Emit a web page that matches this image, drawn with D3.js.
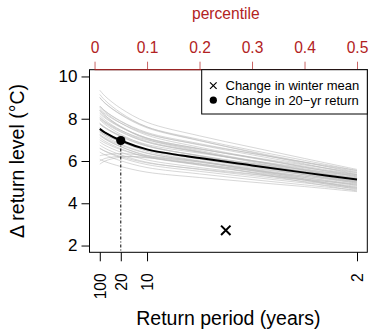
<!DOCTYPE html>
<html>
<head>
<meta charset="utf-8">
<script src="https://cdn.jsdelivr.net/npm/d3@7"></script>
<style>
  body { margin: 0; background: #fff; }
  svg { display: block; font-family: "Liberation Sans", Arial, Helvetica, sans-serif; }
</style>
</head>
<body>
<svg id="chart" width="370" height="329"></svg>
<script>
// Percentile positions at which every curve is sampled
const percentiles = [0.01, 0.02, 0.05, 0.1, 0.2, 0.3, 0.4, 0.5];

// Axis tick values
const percentileTicks = [0, 0.1, 0.2, 0.3, 0.4, 0.5];
const returnPeriodTicks = [100, 20, 10, 2];
const levelTicks = [2, 4, 6, 8, 10];

// Central estimate of the change in return level (°C)
const centralCurve = [7.52, 7.34, 6.97, 6.55, 6.14, 5.79, 5.45, 5.12];

// Ensemble members (°C), one row per member, sampled at `percentiles`
const ensembleCurves = [
  [9.35, 9.07, 8.49, 7.83, 7.19, 6.65, 6.12, 5.60],
  [9.00, 8.74, 8.21, 7.61, 7.02, 6.51, 6.03, 5.55],
  [9.00, 8.73, 8.19, 7.57, 6.96, 6.44, 5.94, 5.45],
  [8.60, 8.37, 7.89, 7.35, 6.82, 6.36, 5.93, 5.50],
  [8.60, 8.36, 7.87, 7.31, 6.76, 6.29, 5.84, 5.40],
  [8.25, 8.03, 7.59, 7.08, 6.58, 6.16, 5.75, 5.35],
  [8.30, 8.08, 7.61, 7.09, 6.58, 6.14, 5.71, 5.30],
  [8.00, 7.79, 7.37, 6.89, 6.42, 6.02, 5.63, 5.25],
  [8.05, 7.84, 7.40, 6.90, 6.41, 6.00, 5.59, 5.20],
  [7.75, 7.56, 7.15, 6.70, 6.26, 5.88, 5.51, 5.15],
  [7.80, 7.60, 7.18, 6.71, 6.25, 5.85, 5.47, 5.10],
  [7.55, 7.36, 6.98, 6.54, 6.11, 5.75, 5.40, 5.05],
  [7.55, 7.36, 6.97, 6.52, 6.08, 5.71, 5.35, 5.00],
  [7.35, 7.17, 6.80, 6.38, 5.97, 5.62, 5.28, 4.95],
  [7.20, 7.03, 6.67, 6.27, 5.88, 5.54, 5.22, 4.90],
  [7.10, 6.93, 6.58, 6.19, 5.81, 5.48, 5.16, 4.85],
  [6.90, 6.74, 6.42, 6.05, 5.69, 5.39, 5.09, 4.80],
  [6.75, 6.60, 6.29, 5.94, 5.60, 5.31, 5.03, 4.75],
  [6.60, 6.46, 6.16, 5.83, 5.51, 5.23, 4.96, 4.70],
  [6.42, 6.29, 6.01, 5.69, 5.39, 5.12, 4.87, 4.62],
  [6.08, 5.97, 5.74, 5.47, 5.22, 5.00, 4.79, 4.55],
  [6.00, 6.12, 6.22, 6.15, 5.85, 5.45, 5.00, 4.58],
  [5.85, 6.00, 6.18, 6.18, 5.95, 5.55, 5.10, 4.65],
  [6.25, 6.30, 6.35, 6.25, 5.95, 5.60, 5.15, 4.70],
  [8.55, 8.30, 7.79, 7.22, 6.65, 6.17, 5.71, 5.25],
  [8.40, 8.15, 7.64, 7.07, 6.50, 6.02, 5.56, 5.10],
  [7.95, 7.73, 7.26, 6.74, 6.23, 5.79, 5.36, 4.95],
  [7.75, 7.57, 7.20, 6.78, 6.37, 6.02, 5.68, 5.35],
  [8.05, 7.86, 7.45, 7.00, 6.56, 6.18, 5.81, 5.45],
  [7.40, 7.24, 6.90, 6.51, 6.14, 5.81, 5.50, 5.20],
  [7.00, 6.85, 6.54, 6.19, 5.85, 5.56, 5.28, 5.00],
  [7.55, 7.35, 6.93, 6.46, 6.00, 5.60, 5.22, 4.85],
  [8.15, 7.93, 7.46, 6.94, 6.43, 5.99, 5.56, 5.15],
  [7.25, 7.09, 6.75, 6.36, 5.99, 5.66, 5.35, 5.05],
  [7.25, 7.06, 6.68, 6.24, 5.81, 5.45, 5.10, 4.75],
  [7.40, 7.24, 6.92, 6.55, 6.19, 5.89, 5.59, 5.30],
  [8.45, 8.23, 7.79, 7.28, 6.78, 6.36, 5.95, 5.55],
  [6.60, 6.47, 6.21, 5.91, 5.62, 5.37, 5.13, 4.90],
  [9.15, 8.87, 8.28, 7.61, 6.97, 6.41, 5.87, 5.35],
  [8.40, 8.15, 7.62, 7.03, 6.45, 5.95, 5.47, 5.00]
];

// Highlighted points: [percentile, change in °C]
const winterMeanChange = [0.25, 2.72];
const twentyYearChange = [0.05, 6.97];

// Legend entries
const legendLabels = ["Change in winter mean", "Change in 20\u2212yr return"];

// ---- layout ----
const svg = d3.select("#chart");
const box = { left: 89.5, right: 367.3, top: 69.7, bottom: 252.3 };
const red = "#b22222";

// x runs over the percentile 0.01..0.5 with a 4% margin on each side
const xPad = 0.04 * (0.5 - 0.01);
const x = d3.scaleLinear().domain([0.01 - xPad, 0.5 + xPad]).range([box.left, box.right]);
const yPad = 0.04 * (10 - 2);
const y = d3.scaleLinear().domain([2 - yPad, 10 + yPad]).range([box.bottom, box.top]);

const line = d3.line()
  .x((d, i) => x(percentiles[i]))
  .y(d => y(d))
  .curve(d3.curveCatmullRom.alpha(0.5));

const plot = svg.append("g");

// ensemble spread
plot.selectAll("path.member")
  .data(ensembleCurves)
  .join("path")
  .attr("class", "member")
  .attr("d", line)
  .attr("fill", "none")
  .attr("stroke", "#bdbdbd")
  .attr("stroke-opacity", 0.6)
  .attr("stroke-width", 1);

// central estimate
plot.append("path")
  .attr("d", line(centralCurve))
  .attr("fill", "none")
  .attr("stroke", "#000")
  .attr("stroke-width", 2);

// dot-dash drop line from the 20-yr point
plot.append("line")
  .attr("x1", x(twentyYearChange[0])).attr("x2", x(twentyYearChange[0]))
  .attr("y1", y(twentyYearChange[1])).attr("y2", box.bottom)
  .attr("stroke", "#000")
  .attr("stroke-width", 1)
  .attr("stroke-dasharray", "3,2,1,2");

plot.append("circle")
  .attr("cx", x(twentyYearChange[0]))
  .attr("cy", y(twentyYearChange[1]))
  .attr("r", 4.6)
  .attr("fill", "#000");

// cross marker for the winter-mean change
const cross = d3.symbol().type(d3.symbolX).size(60);
plot.append("path")
  .attr("d", cross())
  .attr("transform", `translate(${x(winterMeanChange[0])},${y(winterMeanChange[1])})`)
  .attr("fill", "none")
  .attr("stroke", "#000")
  .attr("stroke-width", 2);

// plot frame
svg.append("rect")
  .attr("x", box.left).attr("y", box.top)
  .attr("width", box.right - box.left).attr("height", box.bottom - box.top)
  .attr("fill", "none").attr("stroke", "#000").attr("stroke-width", 1);

// left axis
const yAxis = d3.axisLeft(y).tickValues(levelTicks).tickSize(8).tickPadding(4).tickFormat(d3.format("d"));
const gy = svg.append("g").attr("transform", `translate(${box.left},0)`).call(yAxis);
gy.select(".domain").attr("d", `M0,${y(2)}V${y(10)}`);
gy.selectAll("text").attr("font-size", 17).attr("fill", "#000").attr("font-family", null);

// top axis (percentile, red)
const xTop = d3.axisTop(x).tickValues(percentileTicks).tickSize(8).tickPadding(9).tickFormat(d => d === 0 ? "0" : d3.format(".1f")(d));
const gt = svg.append("g").attr("transform", `translate(0,${box.top})`).call(xTop);
gt.select(".domain").attr("d", `M${x(0)},0H${x(0.5)}`).attr("stroke", red);
gt.selectAll(".tick line").attr("stroke", red).attr("stroke-opacity", 0.7);
gt.selectAll("text").attr("font-size", 15.6).attr("fill", red).attr("font-family", null);

svg.append("text")
  .attr("x", x(0.25)).attr("y", 19)
  .attr("text-anchor", "middle")
  .attr("font-size", 15.6)
  .attr("fill", red)
  .text("percentile");

// bottom axis (return period, labels perpendicular)
const xBottom = d3.axisBottom(x)
  .tickValues(returnPeriodTicks.map(t => 1 / t))
  .tickSize(9)
  .tickFormat((d, i) => String(returnPeriodTicks[i]));
const gb = svg.append("g").attr("transform", `translate(0,${box.bottom})`).call(xBottom);
gb.select(".domain").remove();
gb.selectAll("text")
  .attr("font-size", 15.6)
  .attr("fill", "#000")
  .attr("font-family", null)
  .attr("text-anchor", "end")
  .attr("transform", "translate(0,21) rotate(-90)")
  .attr("x", 0).attr("y", 0).attr("dy", "0.35em");

svg.append("text")
  .attr("x", (box.left + box.right) / 2).attr("y", 325)
  .attr("text-anchor", "middle")
  .attr("font-size", 19.5)
  .text("Return period (years)");

svg.append("text")
  .attr("transform", `translate(24,${(box.top + box.bottom) / 2}) rotate(-90)`)
  .attr("text-anchor", "middle")
  .attr("font-size", 19.5)
  .text("\u0394 return level (\u00B0C)");

// legend
const legend = svg.append("g");
legend.append("rect")
  .attr("x", 201.7).attr("y", box.top)
  .attr("width", box.right - 201.7).attr("height", 114 - box.top)
  .attr("fill", "#fff").attr("stroke", "#000").attr("stroke-width", 1);
const rowsY = [85.6, 100.2];
legend.append("path")
  .attr("d", d3.symbol().type(d3.symbolX).size(30)())
  .attr("transform", `translate(213.3,${rowsY[0]})`)
  .attr("stroke", "#000").attr("stroke-width", 1.2).attr("fill", "none");
legend.append("circle")
  .attr("cx", 213.3).attr("cy", rowsY[1]).attr("r", 3.6).attr("fill", "#000");
legend.selectAll("text.lab")
  .data(legendLabels)
  .join("text")
  .attr("class", "lab")
  .attr("x", 225.5)
  .attr("y", (d, i) => rowsY[i])
  .attr("dy", "0.35em")
  .attr("font-size", 13)
  .text(d => d);
</script>
</body>
</html>
